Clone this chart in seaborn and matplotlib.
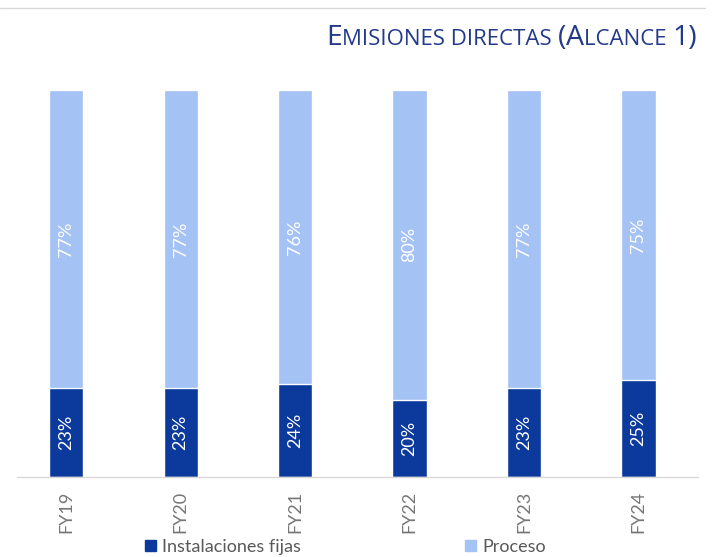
import pandas as pd
import numpy as np
import seaborn as sns
import matplotlib.pyplot as plt
from matplotlib.lines import Line2D
from matplotlib.patches import Patch

years = ['FY19', 'FY20', 'FY21', 'FY22', 'FY23', 'FY24']
instalaciones = [23, 23, 24, 20, 23, 25]
proceso = [77, 77, 76, 80, 77, 75]

dark = '#0b3a9c'
light = '#a4c2f4'

sns.set_theme(style='white')
plt.rcParams['font.family'] = ['Lato', 'DejaVu Sans']

df = pd.DataFrame({'year': years, 'inst': instalaciones, 'proc': proceso})
df['total'] = df['inst'] + df['proc']

fig = plt.figure(figsize=(7.15, 5.57), dpi=100)
ax = fig.add_axes([17 / 715, 80 / 557, 681 / 715, 387 / 557])

# stacked look: full bar in light, fixed installations drawn over it
sns.barplot(data=df, x='year', y='total', color=light, width=0.3, saturation=1, ax=ax)
sns.barplot(data=df, x='year', y='inst', color=dark, width=0.3, saturation=1, ax=ax)

for i, row in df.iterrows():
    ax.text(i, row['inst'] / 2, f"{row['inst']}%", rotation=90, ha='center', va='center',
            color='white', fontsize=13)
    ax.text(i, row['inst'] + row['proc'] / 2, f"{row['proc']}%", rotation=90, ha='center',
            va='center', color='white', fontsize=13)

ax.set_xlim(-0.43, 5.52)
ax.set_ylim(0, 100)
ax.set_xlabel('')
ax.set_ylabel('')
ax.set_yticks([])
ax.tick_params(axis='x', rotation=90, labelsize=13, labelcolor='#767676', length=0, pad=10)
for s in ['top', 'right', 'left']:
    ax.spines[s].set_visible(False)
ax.spines['bottom'].set_color('#d9d9d9')
ax.spines['bottom'].set_linewidth(1)

# top rule
fig.add_artist(Line2D([0, 705 / 715], [1 - 8 / 557, 1 - 8 / 557], color='#d9d9d9', lw=1))

# title in small caps, chained right to left
title_color = '#233a8a'
pieces = [('E', 20.5), ('MISIONES DIRECTAS ', 16), ('(', 20.5), ('A', 20.5), ('LCANCE ', 16), ('1)', 20.5)]
base_y = 557 - 45
prev = None
for txt, size in reversed(pieces):
    if prev is None:
        prev = fig.text(697 / 715, base_y / 557, txt, ha='right', va='baseline',
                        fontsize=size, color=title_color, family=['Open Sans', 'DejaVu Sans'])
    else:
        prev = fig.add_artist(plt.Annotation(txt, xy=(0, base_y), xycoords=(prev, 'figure pixels'),
                                             ha='right', va='baseline', fontsize=size,
                                             color=title_color, family=['Open Sans', 'DejaVu Sans']))

handles = [Patch(color=dark, label='Instalaciones fijas'), Patch(color=light, label='Proceso')]
fig.legend(handles=handles, loc='center', bbox_to_anchor=(0.483, 10 / 557), ncol=2, frameon=False,
           fontsize=13, labelcolor='#595959', handlelength=0.6, handleheight=0.6,
           handletextpad=0.35, columnspacing=9.1)

fig.savefig('out.png', dpi=100)
